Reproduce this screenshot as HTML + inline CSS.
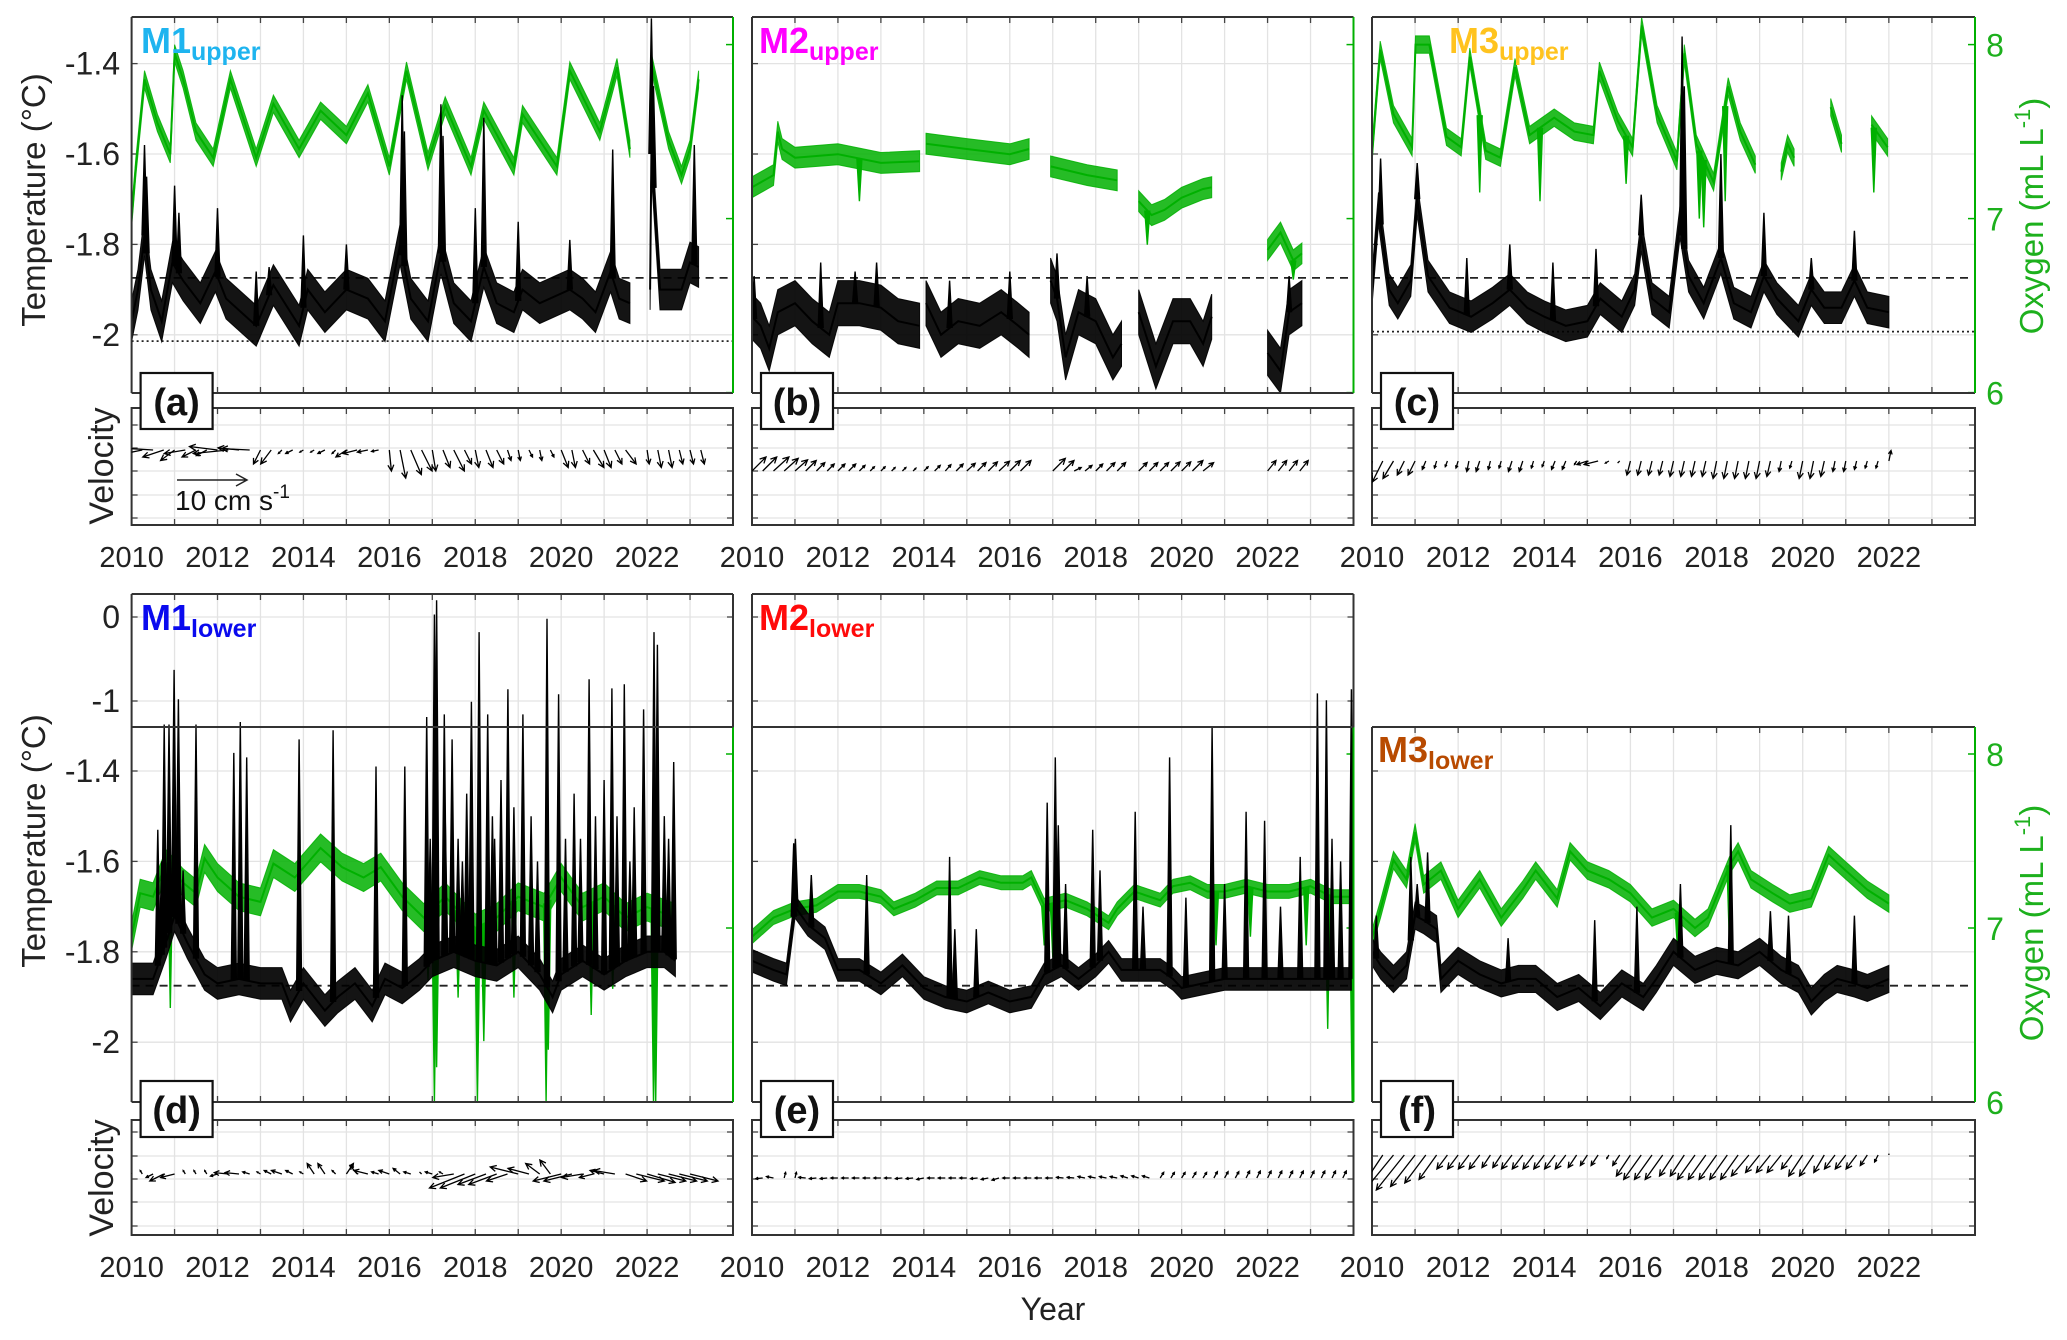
<!DOCTYPE html>
<html><head><meta charset="utf-8">
<style>
html,body{margin:0;padding:0;background:#fff;}
svg{display:block;font-family:"Liberation Sans",Arial,sans-serif;}
</style></head>
<body>
<svg id="chart" width="2067" height="1340" viewBox="0 0 2067 1340" xmlns="http://www.w3.org/2000/svg">
<rect x="0" y="0" width="2067" height="1340" fill="#fff"/>
</svg>
<script>
// ---------- DATA ----------
// Panel a (M1 upper)
const aTempYears=[2010.0,2010.15,2010.3,2010.45,2010.7,2010.95,2011.2,2011.6,2011.95,2012.2,2012.9,2013.3,2013.9,2014.1,2014.5,2015.0,2015.5,2015.9,2016.25,2016.5,2016.9,2017.2,2017.5,2017.9,2018.2,2018.5,2018.9,2019.1,2019.5,2020.2,2020.5,2020.8,2021.15,2021.35,2021.6,2021.8,2022.07,2022.1,2022.3,2022.8,2023.0,2023.2];
const aTempMid=[-1.97,-1.9,-1.78,-1.9,-1.97,-1.84,-1.88,-1.93,-1.86,-1.92,-1.98,-1.89,-1.98,-1.9,-1.95,-1.9,-1.92,-1.97,-1.8,-1.92,-1.97,-1.82,-1.93,-1.97,-1.85,-1.93,-1.95,-1.9,-1.93,-1.9,-1.92,-1.95,-1.86,-1.92,-1.93,null,-1.9,-1.6,-1.9,-1.9,-1.84,-1.85];
const aPeakYears=[2010.3,2010.35,2011.0,2011.1,2012.0,2013.2,2014.0,2015.0,2016.3,2016.35,2017.2,2017.25,2018.2,2018.0,2019.0,2020.2,2021.2,2022.1,2022.15,2023.1,2012.9];
const aPeakVals=[-1.58,-1.65,-1.67,-1.73,-1.72,-1.85,-1.78,-1.80,-1.47,-1.55,-1.49,-1.56,-1.52,-1.72,-1.75,-1.79,-1.59,-1.30,-1.45,-1.58,-1.86];
const aOxyYears=[2010.0,2010.1,2010.3,2010.6,2010.9,2011.0,2011.2,2011.5,2011.9,2012.3,2012.9,2013.3,2013.9,2014.4,2015.0,2015.5,2016.0,2016.4,2016.9,2017.3,2017.9,2018.2,2018.9,2019.1,2019.9,2020.2,2020.9,2021.3,2021.6,2021.8,2022.07,2022.1,2022.5,2022.8,2023.0,2023.2];
const aOxyVals=[7.0,7.3,7.8,7.55,7.37,7.95,7.8,7.5,7.35,7.8,7.35,7.66,7.4,7.62,7.48,7.72,7.3,7.85,7.33,7.65,7.3,7.62,7.3,7.6,7.3,7.85,7.5,7.87,7.4,null,7.6,7.9,7.45,7.25,7.4,7.8];
const aOxyDipYears=[]; const aOxyDipVals=[];
const aVelU=[-5,-4,-5,-3,-2,-3,-2,-1.5,-4,-5,-3,-4,-1,-1.5,-0.5,-1,-0.5,-0.5,-1,-0.5,-1.5,-2,-1.5,-1,0.3,0.8,1.5,1.5,0.5,1,1.5,1,0.5,1,1,0.5,0.3,0.5,0.3,0.5,1,0.5,1,1.5,1,1,1.5,null,0.3,0.5,0.5,0.5,0.5,0.5];
const aVelV=[0.5,-0.8,0.3,-1,-1.5,-0.5,-1,-0.8,0.5,-0.5,0.3,0.2,-2,-2,-0.5,-0.5,-0.3,-0.3,-0.5,-0.5,-1,-0.5,-0.3,-0.2,-3,-4,-3.5,-3,-3,-2.5,-3,-2,-2.5,-2.5,-2,-1.5,-1.5,-1,-1.5,-1,-2.5,-2.5,-2,-2.5,-2.5,-2,-2,null,-2,-2.5,-2.5,-2,-2,-2];

// Panel b (M2 upper)
const bTempYears=[2010.0,2010.2,2010.4,2010.6,2011.0,2011.4,2011.8,2012.0,2012.5,2013.0,2013.4,2013.9,2013.95,2014.05,2014.4,2014.8,2015.3,2015.8,2016.2,2016.45,2016.7,2016.95,2017.1,2017.3,2017.6,2018.0,2018.4,2018.6,2018.8,2019.0,2019.4,2019.8,2020.2,2020.5,2020.7,2021.5,2022.0,2022.3,2022.5,2022.8];
const bTempMid=[-1.96,-1.98,-2.03,-1.95,-1.93,-1.97,-2.0,-1.93,-1.93,-1.94,-1.97,-1.98,null,-1.93,-2.0,-1.97,-1.98,-1.95,-1.98,-2.0,null,-1.88,-1.92,-2.05,-1.95,-1.97,-2.05,-2.02,null,-1.95,-2.07,-1.97,-1.97,-2.02,-1.96,null,-2.04,-2.08,-1.95,-1.93];
const bPeakYears=[2010.05,2011.6,2012.9,2016.0,2017.1,2017.8,2022.5,2012.4,2014.6];
const bPeakVals=[-1.87,-1.84,-1.84,-1.86,-1.82,-1.87,-1.87,-1.86,-1.88];
const bOxyYears=[2010.0,2010.5,2010.6,2010.7,2011.0,2012.0,2013.0,2013.9,2013.95,2014.05,2015.0,2016.0,2016.45,2016.7,2016.95,2017.8,2018.5,2018.8,2019.0,2019.3,2019.6,2020.0,2020.5,2020.7,2021.5,2022.0,2022.3,2022.6,2022.8];
const bOxyVals=[7.18,7.25,7.5,7.4,7.35,7.37,7.32,7.33,null,7.43,7.40,7.37,7.40,null,7.30,7.25,7.22,null,7.1,7.02,7.05,7.12,7.17,7.18,null,6.82,6.92,6.76,6.80];
const bOxyDipYears=[2012.5,2019.2,2022.6]; const bOxyDipVals=[7.1,6.85,6.65];
const bVelU=[2,2,2.2,2,1.8,1.5,1.2,1,1,1,0.8,0.6,0.6,0.5,0.5,0.4,0.6,0.8,0.8,1,1.2,1.2,1.3,1.5,1.5,1.5,null,null,1.8,1.5,1,1,1,1.2,1.2,null,1.2,1.2,1.2,1.3,1.3,1.5,1.5,null,null,null,null,null,1.2,1.2,1.2,1.2];
const bVelV=[2,2,2,1.8,1.6,1.5,1.2,1,1,1,0.8,0.6,0.6,0.5,0.5,0.4,0.6,0.8,0.9,1,1.1,1.2,1.3,1.4,1.5,1.5,null,null,1.8,1.5,0.5,0.8,1,1.2,1.2,null,1.2,1.2,1.2,1.3,1.3,1.5,1.2,null,null,null,null,null,1.5,1.5,1.5,1.5];

// Panel c (M3 upper)
const cTempYears=[2010.0,2010.15,2010.4,2010.6,2010.9,2011.05,2011.3,2011.8,2012.3,2012.8,2013.2,2013.6,2014.0,2014.5,2015.0,2015.3,2015.8,2016.1,2016.25,2016.5,2016.9,2017.15,2017.35,2017.7,2018.1,2018.4,2018.8,2019.1,2019.4,2019.9,2020.2,2020.5,2020.9,2021.2,2021.5,2022.0];
const cTempMid=[-1.90,-1.72,-1.90,-1.93,-1.88,-1.70,-1.87,-1.94,-1.96,-1.93,-1.90,-1.94,-1.96,-1.98,-1.97,-1.92,-1.96,-1.90,-1.78,-1.92,-1.95,-1.75,-1.87,-1.93,-1.83,-1.93,-1.95,-1.87,-1.92,-1.97,-1.90,-1.94,-1.94,-1.88,-1.94,-1.95];
const cPeakYears=[2010.2,2011.05,2012.2,2013.2,2014.2,2015.2,2016.25,2017.2,2017.25,2018.1,2019.1,2020.2,2021.2];
const cPeakVals=[-1.61,-1.62,-1.83,-1.80,-1.84,-1.81,-1.69,-1.34,-1.45,-1.60,-1.73,-1.83,-1.77];
const cOxyYears=[2010.0,2010.19,2010.5,2010.93,2011.01,2011.33,2011.73,2012.07,2012.27,2012.64,2012.98,2013.32,2013.66,2014.23,2014.7,2015.14,2015.28,2015.71,2016.05,2016.26,2016.62,2017.08,2017.25,2017.53,2017.93,2018.27,2018.55,2018.9,2019.2,2019.5,2019.65,2019.8,2020.3,2020.65,2020.9,2021.3,2021.6,2021.97];
const cOxyVals=[7.37,7.97,7.6,7.41,8.0,8.0,7.47,7.41,7.93,7.39,7.35,7.87,7.48,7.58,7.5,7.48,7.85,7.56,7.41,8.11,7.6,7.33,7.95,7.43,7.21,7.76,7.5,7.31,null,7.27,7.43,7.35,null,7.64,7.43,null,7.54,7.41];
const cOxyDipYears=[2012.5,2013.9,2015.9,2017.6,2017.7,2018.2,2021.65]; const cOxyDipVals=[7.15,7.1,7.2,7.0,6.95,7.1,7.15];
const cVelU=[-0.5,-1.5,-1.5,-1,-1,-0.5,-0.3,-0.3,-0.3,-0.3,-0.5,-0.3,-0.3,-0.5,-0.5,-0.3,-0.3,-0.5,-0.5,-0.3,-1.5,-2,-0.5,-0.3,-0.5,-0.5,-0.5,-0.5,-0.5,-0.5,-0.5,-0.5,-0.5,-0.5,-0.5,-0.5,-0.5,-0.5,-0.3,-0.3,-0.5,-0.5,-0.5,-0.3,-0.3,-0.3,-0.3,-0.3,0.3];
const cVelV=[-2.5,-3,-2.5,-2,-2,-1.2,-1,-0.8,-1,-1.5,-1.5,-1.2,-1,-1.5,-1.5,-1,-0.8,-1.2,-1.2,-0.5,-0.5,-0.5,-0.3,-0.3,-2,-2,-2,-2,-2.2,-2.2,-2.2,-2.2,-2.5,-2.5,-2.5,-2.5,-2.5,-2.2,-1.5,-1,-2.5,-2.5,-2.2,-1.5,-1.5,-1.2,-1,-1,1.5];

// Panel d (M1 lower)
const dTempYears=[2010.0,2010.5,2010.8,2011.0,2011.3,2011.7,2012.0,2012.5,2013.0,2013.5,2013.7,2014.0,2014.5,2014.8,2015.2,2015.6,2015.9,2016.3,2016.7,2017.0,2017.5,2018.0,2018.5,2019.0,2019.5,2019.8,2020.0,2020.5,2021.0,2021.5,2022.0,2022.4,2022.66];
const dTempMid=[-1.86,-1.86,-1.78,-1.72,-1.78,-1.85,-1.87,-1.86,-1.87,-1.87,-1.92,-1.87,-1.93,-1.90,-1.87,-1.92,-1.86,-1.88,-1.85,-1.82,-1.80,-1.82,-1.83,-1.80,-1.85,-1.90,-1.85,-1.82,-1.85,-1.82,-1.80,-1.80,-1.82];
const dPeakYears=[2010.61,2010.76,2010.87,2010.99,2011.09,2011.5,2012.38,2012.53,2012.68,2013.9,2014.69,2015.69,2016.36,2016.87,2017.05,2017.1,2017.28,2017.46,2017.91,2018.09,2018.29,2018.76,2019.11,2019.67,2019.94,2020.65,2021.18,2021.47,2021.92,2022.16,2022.24,2022.62,2017.3,2017.6,2017.8,2018.4,2018.6,2018.9,2019.3,2020.1,2020.3,2020.8,2021.0,2021.3,2021.7,2022.4,2016.95,2017.7,2018.45,2019.45,2020.45,2021.6,2022.5,2010.7,2011.2];
const dPeakVals=[-1.53,-1.28,-1.28,-0.63,-0.98,-1.28,-1.36,-1.25,-1.37,-1.33,-1.31,-1.39,-1.39,-1.19,0.03,0.2,-1.16,-1.33,-1.01,-0.18,-1.16,-0.86,-1.16,-0.02,-0.92,-0.74,-0.85,-0.8,-1.1,-0.18,-0.33,-1.38,-1.5,-1.55,-1.45,-1.5,-1.42,-1.48,-1.5,-1.55,-1.45,-1.5,-1.42,-1.5,-1.48,-1.5,-1.55,-1.6,-1.55,-1.6,-1.55,-1.6,-1.55,-1.6,-1.62];
const dOxyYears=[2010.0,2010.2,2010.5,2010.8,2011.2,2011.5,2011.7,2012.0,2012.5,2013.0,2013.3,2013.8,2014.4,2014.9,2015.4,2015.8,2016.3,2016.8,2017.3,2018.0,2018.5,2019.0,2019.6,2020.0,2020.5,2021.0,2021.5,2022.0,2022.66];
const dOxyVals=[6.95,7.2,7.18,7.37,7.26,7.2,7.4,7.29,7.18,7.15,7.37,7.29,7.46,7.35,7.29,7.35,7.18,7.06,7.18,7.0,7.06,7.18,7.12,7.29,7.12,7.18,7.06,7.12,7.06];
const dOxyDipYears=[2010.9,2017.05,2017.1,2018.05,2018.2,2019.65,2019.7,2022.15,2022.2,2018.9,2020.7,2016.9,2017.6,2021.2];
const dOxyDipVals=[6.54,6.0,6.2,6.0,6.35,6.0,6.3,6.0,6.0,6.6,6.5,6.7,6.6,6.65];
const dVelU=[-0.3,-0.3,-1,-2,-2,-0.3,-0.3,-0.3,-1,-2,-2,-1,-0.5,-1,-1.5,-1,-0.5,-1,-1,-0.5,1,-1,-2,-1,-1.5,-1,-1,-0.3,-1,-0.5,-3,-5,-5,-4,-4,-3,-4,-3,-2,-1.5,-4,-4,-3,-2,-2,-3,3,4,4,4,4,4,4];
const dVelV=[0.5,0.5,-0.5,-1,-0.5,0.5,0.5,0.5,-0.3,0.2,0.2,0.3,0.3,0.5,0.5,0.5,0.3,1.5,1.5,0.5,1.5,1.2,0.5,0.3,0.5,0.8,0.3,0.3,0.3,0.3,-0.5,-2,-2,-1.5,-1.5,-1,1,0.8,1.5,2,-1,-1,-0.5,-0.5,0.5,0.5,-1,-1,-1.2,-1,-1,-1,-1];

// Panel e (M2 lower)
const eTempYears=[2010.0,2010.5,2010.8,2011.0,2011.3,2011.7,2012.0,2012.5,2013.0,2013.5,2014.0,2014.5,2015.0,2015.5,2016.0,2016.5,2016.8,2017.2,2017.6,2018.0,2018.3,2018.6,2019.0,2019.5,2019.8,2020.0,2020.5,2021.0,2021.5,2022.0,2022.5,2023.0,2023.95];
const eTempMid=[-1.82,-1.84,-1.85,-1.70,-1.74,-1.77,-1.84,-1.84,-1.87,-1.83,-1.88,-1.90,-1.91,-1.89,-1.91,-1.90,-1.85,-1.83,-1.86,-1.83,-1.80,-1.84,-1.84,-1.84,-1.86,-1.88,-1.87,-1.86,-1.86,-1.86,-1.86,-1.86,-1.86];
const ePeakYears=[2010.97,2011.01,2011.38,2012.67,2014.72,2015.22,2014.6,2016.87,2017.06,2017.13,2017.93,2018.92,2019.72,2020.71,2021.5,2021.93,2023.16,2023.37,2023.95,2022.76,2017.3,2018.1,2019.1,2020.1,2021.0,2022.3,2023.5,2023.7];
const ePeakVals=[-1.56,-1.55,-1.63,-1.63,-1.75,-1.75,-1.59,-1.47,-1.37,-1.52,-1.53,-1.49,-1.37,-1.30,-1.49,-1.51,-0.91,-0.99,-0.86,-1.59,-1.65,-1.62,-1.7,-1.68,-1.65,-1.7,-1.55,-1.6];
const eOxyYears=[2010.0,2010.5,2011.0,2011.5,2012.0,2012.5,2013.0,2013.3,2013.8,2014.3,2014.8,2015.3,2015.8,2016.3,2016.5,2016.8,2017.3,2017.8,2018.3,2018.5,2018.9,2019.5,2019.8,2020.2,2020.6,2021.0,2021.5,2022.0,2022.5,2023.0,2023.5,2023.95];
const eOxyVals=[6.95,7.06,7.11,7.13,7.21,7.21,7.18,7.11,7.16,7.23,7.23,7.29,7.26,7.26,7.29,7.13,7.16,7.11,7.03,7.11,7.21,7.16,7.24,7.26,7.21,7.21,7.24,7.21,7.21,7.24,7.18,7.18];
const eOxyDipYears=[2023.97,2023.4,2017.0,2016.8,2020.8,2021.6,2022.9]; const eOxyDipVals=[6.0,6.42,6.83,6.9,6.9,6.95,6.9];
const eVelU=[-1,-1,-1,0.2,0.2,-1,-1,-1,-1,-1,-1,-1,-1,-1,-1,-1,-1,-1,-1,-1,-1,-1,-1,-1,-1,-1,-1,-1,-1,-1,-1,-1,-1,-1,-1,-1,-1,-1,0.5,0.5,0.5,0.5,0.5,0.5,0.5,0.5,0.5,0.5,0.5,0.5,0.5,0.5,0.5,0.5,0.5,0.5];
const eVelV=[0,-0.1,0.2,0.8,0.8,0.1,-0.1,-0.1,0,0,0,0,0,0,-0.1,-0.1,-0.2,0,0,0,0,-0.1,-0.2,-0.3,0,0,0,0,0,0.1,0.1,0.2,0.2,0.2,0.2,0.3,0.3,0.3,0.8,0.8,0.8,0.8,0.8,0.9,0.9,0.9,1,1,1,1,1,1,1,1,1,1];

// Panel f (M3 lower)
const fTempYears=[2010.0,2010.2,2010.5,2010.8,2011.0,2011.2,2011.5,2011.6,2012.0,2012.5,2013.0,2013.4,2013.8,2014.3,2014.8,2015.3,2015.8,2016.3,2016.6,2017.0,2017.5,2018.0,2018.5,2019.0,2019.5,2019.9,2020.2,2020.5,2020.8,2021.2,2021.5,2022.0];
const fTempMid=[-1.80,-1.83,-1.86,-1.83,-1.72,-1.73,-1.75,-1.86,-1.82,-1.85,-1.87,-1.86,-1.86,-1.90,-1.88,-1.92,-1.87,-1.90,-1.86,-1.80,-1.84,-1.82,-1.83,-1.80,-1.84,-1.86,-1.91,-1.88,-1.86,-1.87,-1.88,-1.86];
const fPeakYears=[2010.9,2011.05,2011.29,2013.16,2015.17,2016.15,2017.16,2018.33,2019.25,2019.67,2021.2,2010.1];
const fPeakVals=[-1.59,-1.65,-1.58,-1.77,-1.73,-1.70,-1.65,-1.52,-1.71,-1.72,-1.72,-1.72];
const fOxyYears=[2010.0,2010.2,2010.5,2010.8,2011.0,2011.2,2011.6,2012.0,2012.5,2013.0,2013.5,2013.8,2014.3,2014.6,2015.0,2015.5,2016.0,2016.5,2017.0,2017.5,2017.8,2018.3,2018.5,2018.8,2019.3,2019.7,2020.2,2020.6,2021.0,2021.5,2022.0];
const fOxyVals=[6.94,7.11,7.39,7.28,7.55,7.25,7.33,7.11,7.28,7.06,7.22,7.33,7.17,7.44,7.33,7.28,7.2,7.06,7.11,7.0,7.06,7.36,7.44,7.28,7.2,7.14,7.17,7.42,7.33,7.22,7.14];
const fOxyDipYears=[2017.1,2018.3]; const fOxyDipVals=[6.85,6.9];
const fVelU=[-2,-4,-4.5,-4,-3.5,-3,-2.5,-1.5,-1.5,-1.5,-1.5,-1.2,-1.2,-1.5,-1.5,-1.5,-1.5,-1.5,-1.5,-1.2,-1,-1,-0.3,-1,-2,-2.5,-2.5,-2.5,-2,-2,-2.5,-2.5,-2.5,-2.5,-2.5,-2.5,-2,-2,-2,-1.5,-2,-2,-1.5,-1.5,-1.5,-1.5,-1,-0.5,0];
const fVelV=[-3,-6,-5.5,-5,-4.5,-4,-3.5,-2,-2,-2,-2,-1.8,-1.8,-2,-2,-2,-2,-2,-2,-1.8,-1.5,-1.5,-0.5,-1.5,-3,-3.5,-3.5,-3.5,-3,-3,-3.5,-3.5,-3.5,-3.5,-3.5,-3,-2.5,-2.5,-2.5,-2,-3,-3,-2.5,-2,-2,-2,-1.5,-1,0.2];

const xTickYears=[2010,2012,2014,2016,2018,2020,2022];
const upperTempTicks=[-1.4,-1.6,-1.8,-2];
const lowerTempTicks=[-1.4,-1.6,-1.8,-2];
const lowerTopTicks=[0,-1];
const oxyTicks=[8,7,6];
const velStartYear=2010.0, velStep=0.25;

// ---------- RENDER ----------
const NS="http://www.w3.org/2000/svg";
const svg=document.getElementById('chart');
function mk(tag,parent){const e=document.createElementNS(NS,tag);(parent||svg).appendChild(e);return e;}
function set(e,o){for(const k in o)e.setAttribute(k,o[k]);return e;}
const GREEN="#00b000", GREENTXT="#1db01d", GRID="#e3e3e3";
const YR0=2010, YR1=2024;
const cols=[[131.6,733],[752,1353.5],[1372,1975]];
function xOf(c,yr){return cols[c][0]+(yr-YR0)/(YR1-YR0)*(cols[c][1]-cols[c][0]);}
function clamp(v,a,b){return Math.max(a,Math.min(b,v));}
function tyUpper(T){return clamp(63.6+(-1.4-T)*452,17,393);}
function tyLower(T){ if(T<=-1.303) return clamp(771+(-1.4-T)*452,727,1102); return clamp(617-T*84,594,727);}
function oyUpper(O){return clamp(44.6+(8-O)*174,17,393);}
function oyLower(O){return clamp(754+(8-O)*174,727,1102);}

const panels=[
 {key:'a',col:0,lower:false,label:'M1',sub:'upper',color:'#1eb4ef',letter:'(a)',top:17,bot:393,vt:408,vb:525,base:450,dash:-1.874,dot:-2.014,tx:141,
  tY:aTempYears,tM:aTempMid,tA:0.045,pY:aPeakYears,pV:aPeakVals,oY:aOxyYears,oV:aOxyVals,oA:0.05,dY:aOxyDipYears,dV:aOxyDipVals,vU:aVelU,vV:aVelV},
 {key:'b',col:1,lower:false,label:'M2',sub:'upper',color:'#ff00ff',letter:'(b)',top:17,bot:393,vt:408,vb:525,base:471,dash:-1.874,dot:null,tx:759,
  tY:bTempYears,tM:bTempMid,tA:0.05,pY:bPeakYears,pV:bPeakVals,oY:bOxyYears,oV:bOxyVals,oA:0.06,dY:bOxyDipYears,dV:bOxyDipVals,vU:bVelU,vV:bVelV},
 {key:'c',col:2,lower:false,label:'M3',sub:'upper',color:'#ffc31e',letter:'(c)',top:17,bot:393,vt:408,vb:525,base:461,dash:-1.874,dot:-1.993,tx:1449,
  tY:cTempYears,tM:cTempMid,tA:0.035,pY:cPeakYears,pV:cPeakVals,oY:cOxyYears,oV:cOxyVals,oA:0.05,dY:cOxyDipYears,dV:cOxyDipVals,vU:cVelU,vV:cVelV},
 {key:'d',col:0,lower:true,label:'M1',sub:'lower',color:'#0a0aee',letter:'(d)',top:594,bot:1102,vt:1120,vb:1235,base:1174,dash:-1.875,dot:null,tx:141,
  tY:dTempYears,tM:dTempMid,tA:0.035,pY:dPeakYears,pV:dPeakVals,oY:dOxyYears,oV:dOxyVals,oA:0.08,dY:dOxyDipYears,dV:dOxyDipVals,vU:dVelU,vV:dVelV},
 {key:'e',col:1,lower:true,label:'M2',sub:'lower',color:'#ff0a0a',letter:'(e)',top:594,bot:1102,vt:1120,vb:1235,base:1178,dash:-1.875,dot:null,tx:759,
  tY:eTempYears,tM:eTempMid,tA:0.025,pY:ePeakYears,pV:ePeakVals,oY:eOxyYears,oV:eOxyVals,oA:0.04,dY:eOxyDipYears,dV:eOxyDipVals,vU:eVelU,vV:eVelV},
 {key:'f',col:2,lower:true,m3:true,label:'M3',sub:'lower',color:'#b84a00',letter:'(f)',top:727,bot:1102,vt:1120,vb:1235,base:1155,dash:-1.875,dot:null,tx:1378,
  tY:fTempYears,tM:fTempMid,tA:0.03,pY:fPeakYears,pV:fPeakVals,oY:fOxyYears,oV:fOxyVals,oA:0.05,dY:fOxyDipYears,dV:fOxyDipVals,vU:fVelU,vV:fVelV}
];

function segments(ys,vs){const segs=[];let cur=[];for(let i=0;i<ys.length;i++){if(vs[i]===null){if(cur.length)segs.push(cur);cur=[];}else cur.push([ys[i],vs[i]]);}if(cur.length)segs.push(cur);return segs;}
function interp(ys,vs,t){for(const s of segments(ys,vs)){if(t<s[0][0]-0.3||t>s[s.length-1][0]+0.3)continue;if(t<=s[0][0])return s[0][1];if(t>=s[s.length-1][0])return s[s.length-1][1];for(let i=0;i<s.length-1;i++){if(t>=s[i][0]&&t<=s[i+1][0]){const f=(t-s[i][0])/(s[i+1][0]-s[i][0]);return s[i][1]+f*(s[i+1][1]-s[i][1]);}}}return null;}

panels.forEach(p=>{
  const c=p.col, x0=cols[c][0], x1=cols[c][1];
  const tY=p.lower?tyLower:tyUpper, oY=p.lower?oyLower:oyUpper;
  const g=mk('g');
  
  
  const cp=mk('clipPath',g); cp.setAttribute('id','clip-'+p.key);
  set(mk('rect',cp),{x:x0,y:p.top,width:x1-x0,height:p.bot-p.top});
  const cpv=mk('clipPath',g); cpv.setAttribute('id','clipv-'+p.key);
  set(mk('rect',cpv),{x:x0,y:p.vt,width:x1-x0,height:p.vb-p.vt});
  const grid=mk('g',g);
  
  
  for(let yr=2011;yr<2024;yr++){const x=xOf(c,yr);
    set(mk('line',grid),{x1:x,x2:x,y1:p.top,y2:p.bot,stroke:GRID,'stroke-width':1.3});
    set(mk('line',grid),{x1:x,x2:x,y1:p.vt,y2:p.vb,stroke:GRID,'stroke-width':1.3});
    set(mk('line',grid),{x1:x,x2:x,y1:p.bot,y2:p.bot-6,stroke:'#444','stroke-width':1.3});
    set(mk('line',grid),{x1:x,x2:x,y1:p.top,y2:p.top+6,stroke:'#444','stroke-width':1.3});
    set(mk('line',grid),{x1:x,x2:x,y1:p.vb,y2:p.vb-6,stroke:'#444','stroke-width':1.3});
    set(mk('line',grid),{x1:x,x2:x,y1:p.vt,y2:p.vt+6,stroke:'#444','stroke-width':1.3});
  }
  const tks=p.lower?lowerTempTicks:upperTempTicks;
  tks.forEach(T=>{const y=tY(T);set(mk('line',grid),{x1:x0,x2:x1,y1:y,y2:y,stroke:GRID,'stroke-width':1.3});
    set(mk('line',grid),{x1:x0,x2:x0+6,y1:y,y2:y,stroke:'#444','stroke-width':1.3});});
  if(p.lower&&!p.m3){lowerTopTicks.forEach(T=>{const y=tY(T);set(mk('line',grid),{x1:x0,x2:x1,y1:y,y2:y,stroke:GRID,'stroke-width':1.3});
    set(mk('line',grid),{x1:x0,x2:x0+6,y1:y,y2:y,stroke:'#444','stroke-width':1.3});set(mk('line',grid),{x1:x1,x2:x1-6,y1:y,y2:y,stroke:'#444','stroke-width':1.3});});}
  [0,1,2,3,4].forEach(i=>{const vy=p.lower?[1132,1156,1179,1202,1226][i]:[425,448,471,495,518][i];
    set(mk('line',grid),{x1:x0,x2:x1,y1:vy,y2:vy,stroke:GRID,'stroke-width':1.3});
    set(mk('line',grid),{x1:x0,x2:x0+6,y1:vy,y2:vy,stroke:'#444','stroke-width':1.3});
    set(mk('line',grid),{x1:x1,x2:x1-6,y1:vy,y2:vy,stroke:'#444','stroke-width':1.3});});
  oxyTicks.forEach(O=>{const y=oY(O);set(mk('line',grid),{x1:x1,x2:x1-7,y1:y,y2:y,stroke:GREEN,'stroke-width':1.5});});

  const data=mk('g',g); data.setAttribute('clip-path','url(#clip-'+p.key+')');
  const dl=mk('line',data);
  set(dl,{x1:x0,x2:x1,y1:tY(p.dash),y2:tY(p.dash),stroke:'#222','stroke-width':1.8,'stroke-dasharray':'8,6'});
  
  
  if(p.dot!==null){const dt=mk('line',data);
    set(dt,{x1:x0,x2:x1,y1:tY(p.dot),y2:tY(p.dot),stroke:'#222','stroke-width':1.8,'stroke-dasharray':'2,3'});
    
    }
  function band(ys,vs,amp,yf,color,op,name){
    segments(ys,vs).forEach(s=>{
      let top='',bot='',mid='';
      s.forEach((pt,i)=>{const x=xOf(c,pt[0]);top+=(i?'L':'M')+x.toFixed(1)+','+yf(pt[1]+amp).toFixed(1);mid+=(i?'L':'M')+x.toFixed(1)+','+yf(pt[1]).toFixed(1);});
      for(let i=s.length-1;i>=0;i--){bot+='L'+xOf(c,s[i][0]).toFixed(1)+','+yf(s[i][1]-amp).toFixed(1);}
      const b=mk('path',data); set(b,{d:top+bot+'Z',fill:color,'fill-opacity':op,stroke:color,'stroke-width':1,'stroke-opacity':op});
      
      
      const l=mk('path',data); set(l,{d:mid,fill:'none',stroke:color,'stroke-width':2});
      
      
    });
  }
  function spikes(ys0,vs0,pys,pvs,yf,color,name){
    pys.forEach((t,i)=>{const m=interp(ys0,vs0,t); if(m===null)return; const x=xOf(c,t);
      const s=mk('path',data); set(s,{d:'M'+(x-2.5).toFixed(1)+','+yf(m).toFixed(1)+'L'+x.toFixed(1)+','+yf(pvs[i]).toFixed(1)+'L'+(x+2.5).toFixed(1)+','+yf(m).toFixed(1),fill:color,stroke:color,'stroke-width':1.4});
      
      });
  }
  band(p.oY,p.oV,p.oA,oY,GREEN,0.85,'oxygen-'+p.key);
  spikes(p.oY,p.oV,p.dY,p.dV,oY,GREEN,'oxygen-dip-'+p.key);
  band(p.tY,p.tM,p.tA,tY,'#000',0.92,'temperature-'+p.key);
  spikes(p.tY,p.tM,p.pY,p.pV,tY,'#000','temperature-peak-'+p.key);

  const fr=mk('g',g);
  
  
  set(mk('line',fr),{x1:x0,x2:x1,y1:p.top,y2:p.top,stroke:'#333','stroke-width':2});
  set(mk('line',fr),{x1:x0,x2:x1,y1:p.bot,y2:p.bot,stroke:'#333','stroke-width':2});
  set(mk('line',fr),{x1:x0,x2:x0,y1:p.top,y2:p.bot,stroke:'#333','stroke-width':2});
  if(p.lower&&!p.m3){
    set(mk('line',fr),{x1:x1,x2:x1,y1:p.top,y2:727,stroke:'#333','stroke-width':2});
    set(mk('line',fr),{x1:x1,x2:x1,y1:727,y2:p.bot,stroke:GREEN,'stroke-width':2});
    set(mk('line',fr),{x1:x0,x2:x1,y1:727,y2:727,stroke:'#333','stroke-width':2});
  } else {
    set(mk('line',fr),{x1:x1,x2:x1,y1:p.top,y2:p.bot,stroke:GREEN,'stroke-width':2});
  }
  set(mk('rect',fr),{x:x0,y:p.vt,width:x1-x0,height:p.vb-p.vt,fill:'none',stroke:'#333','stroke-width':2});

  const vg=mk('g',g);
  
  
  vg.setAttribute('clip-path','url(#clipv-'+p.key+')');
  const S=7;
  p.vU.forEach((u,i)=>{const v=p.vV[i]; if(u===null||v===null)return;
    const t=velStartYear+i*velStep; const xa=xOf(c,t), ya=p.base, xb=xa+u*S, yb=ya-v*S;
    const len=Math.hypot(xb-xa,yb-ya); let d='M'+xa.toFixed(1)+','+ya+'L'+xb.toFixed(1)+','+yb.toFixed(1);
    if(len>3){const ux=(xb-xa)/len,uy=(yb-ya)/len,h=Math.min(6,len*0.35);
      d+='M'+(xb-h*ux+h*0.5*uy).toFixed(1)+','+(yb-h*uy-h*0.5*ux).toFixed(1)+'L'+xb.toFixed(1)+','+yb.toFixed(1)+'L'+(xb-h*ux-h*0.5*uy).toFixed(1)+','+(yb-h*uy+h*0.5*ux).toFixed(1);}
    const a=mk('path',vg); set(a,{d:d,fill:'none',stroke:'#000','stroke-width':1.3});
    
    });

  const yl=mk('g',g);
  
  
  xTickYears.forEach(yr=>{const t=mk('text',yl);set(t,{x:xOf(c,yr),y:p.vb+42,'text-anchor':'middle','font-size':29,fill:'#222'});t.textContent=yr;});

  const tt=mk('text',g); set(tt,{x:p.tx,y:p.m3?762:(p.lower?630:53),'font-size':36,'font-weight':'bold',fill:p.color});
  
  
  tt.appendChild(document.createTextNode(p.label));
  const sb=mk('tspan',tt); set(sb,{'font-size':25,dy:7}); sb.textContent=p.sub;

  const lb=mk('g',g);
  
  
  const by=p.lower?1081:373;
  set(mk('rect',lb),{x:x0+9,y:by,width:72,height:56,fill:'#fff',stroke:'#111','stroke-width':2.2});
  const lt=mk('text',lb); set(lt,{x:x0+45,y:by+42,'text-anchor':'middle','font-size':38,'font-weight':'bold',fill:'#111'}); lt.textContent=p.letter;
});

function ylab(txt,y,name){const t=mk('text');set(t,{x:120,y:y+11,'text-anchor':'end','font-size':32,fill:'#222'});t.textContent=txt;
  
  }
upperTempTicks.forEach(T=>ylab(String(T),tyUpper(T),'y-tick-upper'));
lowerTempTicks.forEach(T=>ylab(String(T),tyLower(T),'y-tick-lower'));
lowerTopTicks.forEach(T=>ylab(String(T),tyLower(T),'y-tick-lower-top'));
oxyTicks.forEach(O=>{const t=mk('text');set(t,{x:1995,y:oyUpper(O)+12,'text-anchor':'middle','font-size':32,fill:GREENTXT});t.textContent=O;
  
  
  const t2=mk('text');set(t2,{x:1995,y:oyLower(O)+12,'text-anchor':'middle','font-size':32,fill:GREENTXT});t2.textContent=O;
  
  });

function rtitle(txt,x,y,color,name,sup,fs){const t=mk('text');set(t,{x:x,y:y,'text-anchor':'middle','font-size':fs,fill:color,transform:'rotate(-90 '+x+' '+y+')'});
  
  
  if(sup){t.appendChild(document.createTextNode('Oxygen (mL L'));const s=mk('tspan',t);set(s,{'font-size':22,dy:-13});s.textContent='-1';const r=mk('tspan',t);set(r,{dy:13});r.textContent=')';}
  else t.textContent=txt;}
rtitle('Temperature (°C)',45,200,'#222','y-axis-title-temperature-upper',false,33);
rtitle('Temperature (°C)',45,841,'#222','y-axis-title-temperature-lower',false,33);
rtitle('Velocity',113,466,'#222','y-axis-title-velocity-upper',false,34);
rtitle('Velocity',113,1178,'#222','y-axis-title-velocity-lower',false,34);
rtitle('',2043,216,GREENTXT,'y-axis-title-oxygen-upper',true,33);
rtitle('',2043,923,GREENTXT,'y-axis-title-oxygen-lower',true,33);
const xt=mk('text');set(xt,{x:1053,y:1320,'text-anchor':'middle','font-size':32,fill:'#222'});xt.textContent='Year';



const sg=mk('g');


set(mk('path',sg),{d:'M177,480L247,480M236,474L247,480L236,486',fill:'none',stroke:'#222','stroke-width':1.5});
const st=mk('text',sg);set(st,{x:175,y:510,'font-size':28,fill:'#111'});st.appendChild(document.createTextNode('10 cm s'));
const ss=mk('tspan',st);set(ss,{'font-size':19,dy:-12});ss.textContent='-1';
</script>
</body></html>
